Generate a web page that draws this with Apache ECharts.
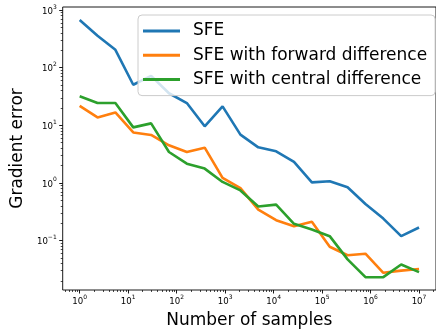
<!DOCTYPE html>
<html><head><meta charset="utf-8">
<script src="https://cdn.jsdelivr.net/npm/echarts@6/dist/echarts.min.js"></script>
<style>html,body{margin:0;padding:0;background:#fff}#c{width:436px;height:334px}</style>
</head><body><div id="c"></div>
<script>
const samples = [1, 2.3357, 5.4556, 12.743, 29.764, 69.519, 162.38, 379.27, 885.87, 2069.1, 4832.9, 11288, 26367, 61585, 143845, 335982, 784760, 1832981, 4281332, 10000000];
const sfe = [670, 357, 204, 50.6, 72, 36, 24.3, 9.6, 21.3, 6.9, 4.14, 3.53, 2.31, 1.02, 1.07, 0.84, 0.43, 0.24, 0.119, 0.168];
const forwardDiff = [21.8, 13.7, 16.7, 7.5, 6.8, 4.5, 3.44, 4.09, 1.22, 0.81, 0.344, 0.225, 0.177, 0.211, 0.078, 0.0556, 0.059, 0.0275, 0.030, 0.032];
const centralDiff = [31.8, 24.3, 24.3, 9.2, 10.8, 3.44, 2.16, 1.77, 1.04, 0.74, 0.39, 0.42, 0.195, 0.155, 0.119, 0.047, 0.0231, 0.0231, 0.0384, 0.0283];
const seriesNames = ['SFE', 'SFE with forward difference', 'SFE with central difference'];
const xMajor = [1, 10, 100, 1000, 10000, 100000, 1000000, 10000000];
const yMajor = [0.1, 1, 10, 100, 1000];

const FONT = 'DejaVu Sans';
function minorsBetween(lo, hi) {
  const out = [];
  for (let e = -3; e <= 8; e++) {
    for (let k = 2; k <= 9; k++) {
      const v = k * Math.pow(10, e);
      if (v >= lo && v <= hi) out.push(v);
    }
  }
  return out;
}
const xMin = 0.4467, xMax = 2.239e7;
const yMin = 0.01384, yMax = 1130;
const xMinor = minorsBetween(xMin, xMax);
const yMinor = minorsBetween(yMin, yMax);

function fmt(v) {
  const e = Math.round(Math.log10(v));
  return '{b|10}{s|' + (e < 0 ? '\u2212' + (-e) : e) + '}';
}
const rich = {
  b: { fontSize: 8.6, fontFamily: FONT, color: '#000', lineHeight: 12, verticalAlign: 'bottom' },
  s: { fontSize: 6, fontFamily: FONT, color: '#000', lineHeight: 12, verticalAlign: 'top', padding: [0, 0, 0, 0] }
};
function pairs(ys) { return samples.map((x, i) => [x, ys[i]]); }

const chart = echarts.init(document.getElementById('c'), null, { renderer: 'canvas' });
chart.setOption({
  animation: false,
  backgroundColor: '#fff',
  grid: { left: 62.7, top: 7, width: 380.6, height: 284, show: true, borderColor: '#000', borderWidth: 0.9, backgroundColor: 'transparent' },
  legend: {
    orient: 'vertical', left: 138, top: 15,
    padding: [6, 8, 6, 5],
    itemWidth: 37, itemHeight: 3, itemGap: 4.3, icon: 'rect',
    backgroundColor: 'rgba(255,255,255,0.8)', borderColor: '#cccccc', borderWidth: 1, borderRadius: 4,
    textStyle: { fontFamily: FONT, fontSize: 17, color: '#000', lineHeight: 20, padding: [0, 0, 0, 8] },
    data: seriesNames
  },
  xAxis: [
    {
      type: 'log', logBase: 10, min: xMin, max: xMax, position: 'bottom',
      axisLine: { show: false },
      axisTick: { show: true, length: 3.5, customValues: xMajor, lineStyle: { color: '#000', width: 0.9 } },
      axisLabel: { customValues: xMajor, formatter: fmt, rich: rich, margin: 4 },
      splitLine: { show: false }, minorTick: { show: false },
      name: 'Number of samples', nameLocation: 'middle', nameGap: 22,
      nameTextStyle: { fontFamily: FONT, fontSize: 17, color: '#000' }
    },
    {
      type: 'log', logBase: 10, min: xMin, max: xMax, position: 'bottom',
      axisLine: { show: false },
      axisTick: { show: true, length: 2, customValues: xMinor, lineStyle: { color: '#000', width: 0.7 } },
      axisLabel: { show: false }, splitLine: { show: false }
    }
  ],
  yAxis: [
    {
      type: 'log', logBase: 10, min: yMin, max: yMax, position: 'left',
      axisLine: { show: false },
      axisTick: { show: true, length: 3.5, customValues: yMajor, lineStyle: { color: '#000', width: 0.9 } },
      axisLabel: { customValues: yMajor, formatter: fmt, rich: rich, margin: 6 },
      splitLine: { show: false }, minorTick: { show: false },
      name: 'Gradient error', nameLocation: 'middle', nameGap: 36, nameRotate: 90,
      nameTextStyle: { fontFamily: FONT, fontSize: 17, color: '#000' }
    },
    {
      type: 'log', logBase: 10, min: yMin, max: yMax, position: 'left',
      axisLine: { show: false },
      axisTick: { show: true, length: 2, customValues: yMinor, lineStyle: { color: '#000', width: 0.7 } },
      axisLabel: { show: false }, splitLine: { show: false }
    }
  ],
  series: [
    { name: seriesNames[0], type: 'line', data: pairs(sfe), showSymbol: false, symbol: 'none', color: '#1f77b4', lineStyle: { width: 2.6, color: '#1f77b4' } },
    { name: seriesNames[1], type: 'line', data: pairs(forwardDiff), showSymbol: false, symbol: 'none', color: '#ff7f0e', lineStyle: { width: 2.6, color: '#ff7f0e' } },
    { name: seriesNames[2], type: 'line', data: pairs(centralDiff), showSymbol: false, symbol: 'none', color: '#2ca02c', lineStyle: { width: 2.6, color: '#2ca02c' } }
  ]
});
</script></body></html>
